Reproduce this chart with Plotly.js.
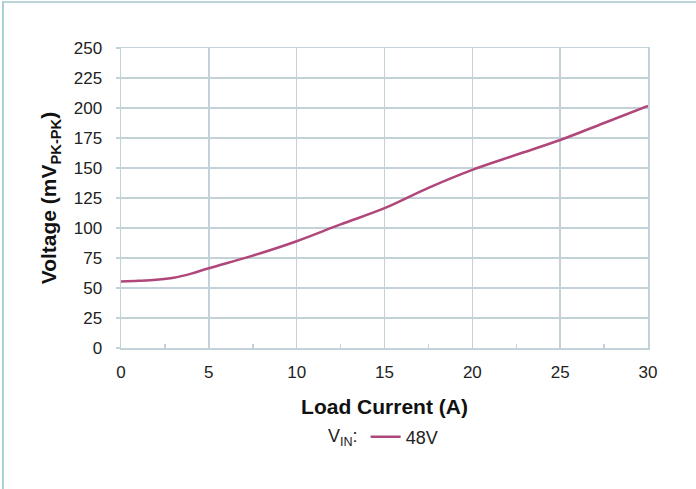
<!DOCTYPE html>
<html>
<head>
<meta charset="utf-8">
<script src="https://cdn.plot.ly/plotly-3.0.1.min.js"></script>
<style>
  html, body { margin: 0; padding: 0; background: #ffffff; }
  #wrap { position: relative; width: 696px; height: 489px; overflow: hidden; }
  #chart { position: absolute; left: 0; top: 0; width: 696px; height: 489px; }
  #bTop { position: absolute; left: 2px; top: 1px; width: 694px; height: 2px; background: #bcd3d9; }
  #bLeft { position: absolute; left: 2px; top: 1px; width: 2px; height: 488px; background: #a9d0d8; }
</style>
</head>
<body>
<div id="wrap">
  <div id="chart"></div>
  <div id="bTop"></div>
  <div id="bLeft"></div>
</div>
<script>
// Load current (A)
const loadCurrent = [0, 1, 2, 3, 4, 5, 7.5, 10, 12.5, 15, 17.5, 20, 22.5, 25, 27.5, 30];
// Output ripple voltage (mV pk-pk), VIN = 48V
const ripple48V = [55.5, 56, 56.8, 58.5, 62, 66.5, 77, 89, 103, 116.5, 133.5, 148.5, 161, 173.3, 187.5, 201.7];
const seriesName = '48V';
const legendTitle = 'V<sub>IN</sub>:';
const xTitle = 'Load Current (A)';
const yTitle = 'Voltage (mV<sub>PK-PK</sub>)';

const gridColor = '#c3d1d9';
const fontFam = 'Liberation Sans, Arial, sans-serif';

const trace = {
  x: loadCurrent,
  y: ripple48V,
  name: seriesName,
  type: 'scatter',
  mode: 'lines',
  line: { color: '#b0477a', width: 2.5, shape: 'spline', smoothing: 1 },
  showlegend: true
};

const layout = {
  width: 696,
  height: 489,
  margin: { l: 121, r: 48, t: 48, b: 141 },
  paper_bgcolor: '#ffffff',
  plot_bgcolor: '#ffffff',
  font: { family: fontFam, size: 18, color: '#222222' },
  showlegend: true,
  xaxis: {
    range: [0, 30],
    dtick: 5,
    tick0: 0,
    showgrid: true,
    gridcolor: gridColor,
    gridwidth: 1.5,
    zeroline: false,
    showline: true,
    linecolor: gridColor,
    linewidth: 1.5,
    mirror: true,
    ticks: '',
    ticklabelstandoff: 8,
    tickfont: { size: 17, color: '#222222' },
    minor: { dtick: 2.5, ticks: 'inside', ticklen: 4, tickcolor: gridColor, tickwidth: 1.5, showgrid: false },
    title: { text: xTitle, font: { size: 21, color: '#111111', family: fontFam, weight: 'bold' }, standoff: 18 },
    fixedrange: true
  },
  yaxis: {
    range: [0, 250],
    dtick: 25,
    tick0: 0,
    showgrid: true,
    gridcolor: gridColor,
    gridwidth: 1.5,
    zeroline: false,
    showline: true,
    linecolor: gridColor,
    linewidth: 1.5,
    mirror: true,
    ticks: 'outside',
    ticklen: 4,
    tickcolor: gridColor,
    tickwidth: 1.5,
    ticklabelstandoff: 10,
    tickfont: { size: 17, color: '#222222' },
    title: { text: yTitle, font: { size: 21, color: '#111111', family: fontFam, weight: 'bold' }, standoff: 11 },
    fixedrange: true
  },
  legend: {
    orientation: 'h',
    x: 0.5,
    xanchor: 'center',
    y: -0.297,
    yanchor: 'middle',
    font: { size: 18, color: '#222222' },
    title: { text: legendTitle, side: 'left', font: { size: 18, color: '#222222' } },
    bgcolor: 'rgba(0,0,0,0)'
  }
};

Plotly.newPlot('chart', [trace], layout, { displayModeBar: false, staticPlot: true });
</script>
</body>
</html>
